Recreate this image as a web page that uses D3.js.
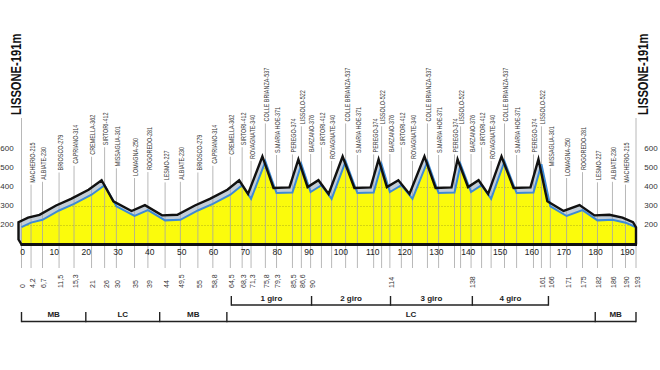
<!DOCTYPE html>
<html>
<head>
<meta charset="utf-8">
<script src="https://cdn.jsdelivr.net/npm/d3@7"></script>
<style>
  body { margin: 0; background: #fff; }
  svg { display: block; font-family: "Liberation Sans", Arial, sans-serif; }
</style>
</head>
<body>
<svg id="chart" width="660" height="370"></svg>
<script>
// waypoints along the route, as drawn on the profile
const names = ["LISSONE","MACHERIO","ALBIATE","BRIOSCO","CAPRIANO","CREMELLA","SIRTORI","MISSAGLIA","LOMAGNA","ROGOREDO","LESMO","ALBIATE","BRIOSCO","CAPRIANO",
  "CREMELLA","SIRTORI","ROVAGNATE","COLLE BRIANZA","S.MARIA HOE","PEREGO","LISSOLO","BARZANO",
  "SIRTORI","ROVAGNATE","COLLE BRIANZA","S.MARIA HOE","PEREGO","LISSOLO","BARZANO",
  "SIRTORI","ROVAGNATE","COLLE BRIANZA","S.MARIA HOE","PEREGO","LISSOLO","BARZANO",
  "SIRTORI","ROVAGNATE","COLLE BRIANZA","S.MARIA HOE","PEREGO","LISSOLO",
  "MISSAGLIA","LOMAGNA","ROGOREDO","LESMO","ALBIATE","MACHERIO","LISSONE"];
const altitudes = [191,215,230,279,314,362,412,301,250,281,227,230,279,314,
  362,412,340,537,371,374,522,376,
  412,340,537,371,374,522,376,
  412,340,537,371,374,522,376,
  412,340,537,371,374,522,
  301,250,281,227,230,215,191];
const positions = [0,3.0,6.6,11.8,16.5,22.0,26.1,29.8,35.5,39.7,45.1,49.9,55.4,60.1,
  65.6,69.3,72.1,76.6,80.1,85.1,87.9,90.8,
  94.2,97.4,101.8,105.5,110.6,113.1,115.7,
  119.3,122.8,127.5,131.0,136.0,137.9,141.2,
  144.5,147.5,151.7,155.5,160.8,163.3,
  166.1,171.2,176.2,180.9,185.6,189.7,193];
const kmLabels = ["0","4,2","6,7","11,5","15,3","21","26","30","35","39","44","49,5","55","58,8",
  "64,5","68,3","71,3","75,8","79,3","85,5","86,6","90",
  "","","","","","","114",
  "","","","","","","138",
  "","","","","","161",
  "166","171","175","182","186","190","193"];

const kmTicks = [0,10,20,30,40,50,60,70,80,90,100,110,120,130,140,150,160,170,180,190];
const altTicks = [200,300,400,500,600];

const lapNames = ["1 giro","2 giro","3 giro","4 giro"];
const lapBounds = [65.9, 91.1, 115.9, 141.6, 165.5];
const sectionNames = ["MB","LC","MB","LC","MB"];
const sectionBounds = [0, 20.2, 43.4, 64.5, 180.2, 193];

const svg = d3.select("#chart");
const x = d3.scaleLinear().domain([0, 193]).range([21.5, 636]);
const y = d3.scaleLinear().domain([100, 600]).range([244.5, 149.5]);
const base = y(100);
const off = [-3, -5];          // shift of the back edge (3d look)
const labelGap = 40;
const lineBottom = 268;

const pts = positions.map((k, i) => [x(k), y(altitudes[i])]);
const back = pts.map(p => [p[0] + off[0], p[1] + off[1]]);
const x0 = x(0), x1 = x(193);
const line = d3.line();

// side / top face in grey
svg.append("path")
  .attr("d", line(back.concat([pts[pts.length - 1], [x1, base], [x0, base], [x0 + off[0], base + off[1]]])) + "Z")
  .attr("fill", "#c3cdd7");

// yellow front
const area = d3.area().x(d => d[0]).y0(base).y1(d => d[1]);
svg.append("clipPath").attr("id", "front").append("path").attr("d", area(pts));
svg.append("path").attr("d", area(pts)).attr("fill", "#fbfb0c");

// dotted grid inside the profile
svg.append("g").attr("clip-path", "url(#front)")
  .selectAll("line").data(altTicks.slice(0, 4)).join("line")
    .attr("x1", x0).attr("x2", x1)
    .attr("y1", d => y(d)).attr("y2", d => y(d))
    .attr("stroke", "#9c9c1a").attr("stroke-width", 0.8)
    .attr("stroke-dasharray", "1,2");

// waypoint lines
svg.append("g").selectAll("line").data(d3.range(names.length)).join("line")
  .attr("x1", i => x(positions[i])).attr("x2", i => x(positions[i]))
  .attr("y1", i => (i === 0 || i === names.length - 1) ? 118 : y(altitudes[i]) - labelGap + 2)
  .attr("y2", lineBottom)
  .attr("stroke", "#a6a6a6").attr("stroke-width", 0.8);

// blue front edge
svg.append("path").attr("d", line(pts))
  .attr("fill", "none").attr("stroke", "#3d8ad6").attr("stroke-width", 2)
  .attr("stroke-linejoin", "miter");

// black back edge
svg.append("path")
  .attr("d", line([[x0, base], [x0 + off[0], base + off[1]]].concat(back, [pts[pts.length - 1], [x1, base]])))
  .attr("fill", "none").attr("stroke", "#111").attr("stroke-width", 2.4)
  .attr("stroke-linejoin", "miter").attr("stroke-miterlimit", 10);

// baseline
svg.append("line").attr("x1", x0 - 1).attr("x2", x1 + 1).attr("y1", base).attr("y2", base)
  .attr("stroke", "#111").attr("stroke-width", 3.2);

// waypoint labels
svg.append("g").selectAll("text").data(d3.range(1, names.length - 1)).join("text")
  .attr("transform", i => `translate(${x(positions[i]) + 1.5},${y(altitudes[i]) - labelGap}) rotate(-90) scale(0.8,1)`)
  .attr("dy", "0.35em")
  .attr("font-size", 6.8)
  .attr("fill", "#3a3a3a")
  .text(i => `${names[i]}-${altitudes[i]}`);

// start / finish
svg.append("g").selectAll("text").data([[16, 0], [643, names.length - 1]]).join("text")
  .attr("transform", d => `translate(${d[0]},115) rotate(-90) scale(0.8,1)`)
  .attr("dy", "0.35em")
  .attr("font-size", 14).attr("font-weight", "bold").attr("fill", "#111")
  .text(d => `${names[d[1]]}-${altitudes[d[1]]}m`);

// altitude labels both sides
svg.append("g").selectAll("text").data(altTicks.flatMap(v => [[7, v], [651, v]])).join("text")
  .attr("x", d => d[0]).attr("y", d => y(d[1]) - 1.5)
  .attr("dy", "0.35em").attr("text-anchor", "middle")
  .attr("font-size", 8).attr("fill", "#333")
  .text(d => d[1]);

// km axis
svg.append("g").selectAll("text").data(kmTicks).join("text")
  .attr("x", d => x(d) + 1).attr("y", 252)
  .attr("dy", "0.35em").attr("text-anchor", "middle")
  .attr("font-size", 8.5).attr("fill", "#222")
  .text(d => d);

// km of each waypoint
svg.append("g").selectAll("text").data(d3.range(names.length).filter(i => kmLabels[i] !== "")).join("text")
  .attr("transform", i => `translate(${x(positions[i]) + 1.5},288) rotate(-90)`)
  .attr("dy", "0.35em")
  .attr("font-size", 7).attr("fill", "#333")
  .text(i => kmLabels[i]);

// brackets
function bracket(bounds, labels, yLine, h, yText) {
  const g = svg.append("g").attr("stroke", "#222").attr("stroke-width", 1.4);
  g.append("line").attr("x1", x(bounds[0])).attr("x2", x(bounds[bounds.length - 1]))
    .attr("y1", yLine).attr("y2", yLine);
  g.selectAll(".tk").data(bounds).join("line").attr("class", "tk")
    .attr("x1", d => x(d)).attr("x2", d => x(d))
    .attr("y1", yLine - h).attr("y2", yLine + 0.7);
  svg.append("g").selectAll("text").data(labels).join("text")
    .attr("x", (d, i) => (x(bounds[i]) + x(bounds[i + 1])) / 2)
    .attr("y", yText).attr("dy", "0.35em").attr("text-anchor", "middle")
    .attr("font-size", 8).attr("font-weight", "bold").attr("fill", "#222")
    .text(d => d);
}
bracket(lapBounds, lapNames, 305, 9, 298.5);
bracket(sectionBounds, sectionNames, 321.5, 9.5, 314.5);
</script>
</body>
</html>
